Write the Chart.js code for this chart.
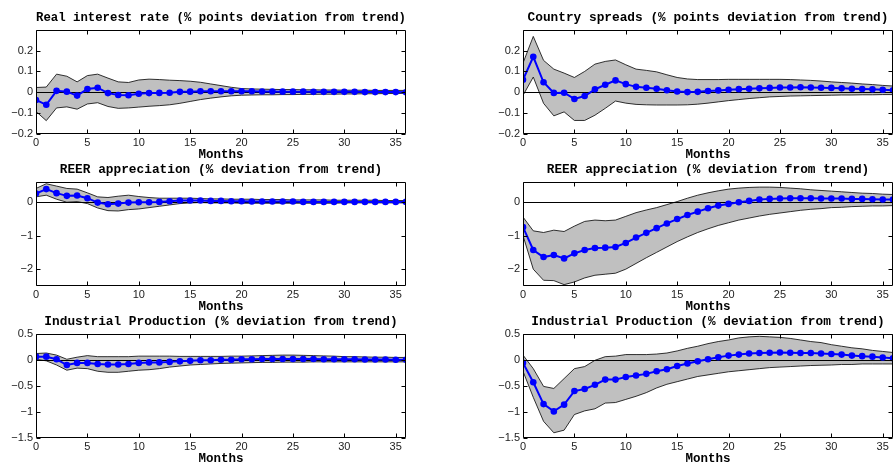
<!DOCTYPE html>
<html>
<head>
<meta charset="utf-8">
<script src="https://cdn.jsdelivr.net/npm/chart.js@4"></script>
<style>
    html, body { margin: 0; padding: 0; background: #fff; }
    body { width: 893px; height: 469px; overflow: hidden; position: relative; }
    canvas { position: absolute; }
</style>
</head>
<body>
<canvas id="rate" width="420" height="162" style="left:0px;top:0px"></canvas>
<canvas id="spreads" width="420" height="162" style="left:487px;top:0px"></canvas>
<canvas id="reerA" width="420" height="162" style="left:0px;top:152px"></canvas>
<canvas id="reerB" width="420" height="162" style="left:487px;top:152px"></canvas>
<canvas id="ipA" width="420" height="162" style="left:0px;top:304px"></canvas>
<canvas id="ipB" width="420" height="162" style="left:487px;top:304px"></canvas>
<script>
const months = [0,1,2,3,4,5,6,7,8,9,10,11,12,13,14,15,16,17,18,19,20,21,22,23,24,25,26,27,28,29,30,31,32,33,34,35,36]
const xTicks = [0, 5, 10, 15, 20, 25, 30, 35]

const titles = [
    'Real interest rate (% points deviation from trend)',
    'Country spreads (% points deviation from trend)',
    'REER appreciation (% deviation from trend)',
    'REER appreciation (% deviation from trend)',
    'Industrial Production (% deviation from trend)',
    'Industrial Production (% deviation from trend)',
]

const yTicksSpread = [-0.2, -0.1, 0, 0.1, 0.2]
const yTicksReer = [-2, -1, 0]
const yTicksIp = [-1.5, -1, -0.5, 0, 0.5]

// real interest rate
const rateResp = [-0.037,-0.060,0.007,0.003,-0.016,0.016,0.022,-0.004,-0.013,-0.014,-0.007,-0.004,-0.003,-0.002,0.002,0.003,0.005,0.005,0.005,0.005,0.005,0.005,0.004,0.004,0.003,0.003,0.003,0.002,0.002,0.002,0.002,0.002,0.001,0.001,0.001,0.001,0.000]
const rateUpper = [0.023,0.025,0.087,0.077,0.050,0.080,0.087,0.068,0.050,0.047,0.059,0.063,0.061,0.058,0.056,0.053,0.048,0.040,0.032,0.024,0.018,0.016,0.015,0.014,0.013,0.013,0.012,0.012,0.011,0.011,0.010,0.010,0.010,0.009,0.009,0.009,0.009]
const rateLower = [-0.092,-0.136,-0.075,-0.070,-0.081,-0.056,-0.050,-0.068,-0.077,-0.075,-0.071,-0.067,-0.064,-0.060,-0.053,-0.044,-0.035,-0.028,-0.022,-0.017,-0.014,-0.013,-0.012,-0.012,-0.011,-0.011,-0.010,-0.010,-0.009,-0.009,-0.008,-0.008,-0.007,-0.007,-0.006,-0.006,-0.005]

// country spreads
const spreadResp = [0.060,0.170,0.048,-0.003,-0.002,-0.032,-0.018,0.014,0.036,0.057,0.039,0.026,0.022,0.017,0.010,0.004,0.001,0.002,0.006,0.009,0.012,0.015,0.017,0.019,0.021,0.023,0.023,0.024,0.023,0.022,0.021,0.019,0.017,0.016,0.014,0.012,0.010]
const spreadUpper = [0.140,0.268,0.153,0.111,0.092,0.071,0.100,0.135,0.148,0.155,0.132,0.111,0.105,0.098,0.084,0.071,0.064,0.061,0.061,0.061,0.062,0.062,0.062,0.062,0.062,0.062,0.061,0.059,0.057,0.054,0.050,0.047,0.044,0.040,0.037,0.033,0.030]
const spreadLower = [-0.015,0.073,-0.053,-0.113,-0.094,-0.135,-0.135,-0.110,-0.077,-0.042,-0.052,-0.058,-0.060,-0.061,-0.061,-0.061,-0.060,-0.057,-0.052,-0.046,-0.040,-0.035,-0.030,-0.026,-0.022,-0.020,-0.018,-0.017,-0.016,-0.015,-0.014,-0.013,-0.013,-0.012,-0.012,-0.011,-0.011]

// REER, left column
const reerAResp = [0.25,0.38,0.26,0.18,0.19,0.11,-0.02,-0.07,-0.05,-0.02,-0.01,-0.01,0.00,0.02,0.04,0.04,0.04,0.03,0.03,0.02,0.02,0.01,0.01,0.01,0.01,0.01,0.00,0.00,0.00,0.00,0.00,0.00,0.00,0.00,0.00,0.00,0.00]
const reerAUpper = [0.40,0.54,0.47,0.40,0.38,0.27,0.15,0.13,0.17,0.20,0.16,0.13,0.11,0.11,0.11,0.11,0.10,0.09,0.09,0.08,0.08,0.08,0.07,0.07,0.07,0.06,0.06,0.06,0.06,0.05,0.05,0.05,0.05,0.05,0.04,0.04,0.04]
const reerALower = [0.15,0.20,0.08,-0.01,0.01,-0.05,-0.18,-0.26,-0.27,-0.23,-0.21,-0.17,-0.13,-0.09,-0.05,-0.03,-0.02,-0.03,-0.03,-0.03,-0.04,-0.04,-0.04,-0.04,-0.04,-0.04,-0.04,-0.04,-0.04,-0.04,-0.03,-0.03,-0.03,-0.03,-0.03,-0.03,-0.03]

// REER, right column
const reerBResp = [-0.75,-1.43,-1.64,-1.58,-1.68,-1.53,-1.43,-1.37,-1.36,-1.34,-1.22,-1.06,-0.92,-0.78,-0.64,-0.51,-0.39,-0.29,-0.19,-0.11,-0.06,-0.01,0.03,0.07,0.09,0.10,0.11,0.11,0.11,0.10,0.10,0.10,0.09,0.09,0.08,0.07,0.07]
const reerBUpper = [-0.45,-0.86,-0.91,-0.84,-0.88,-0.72,-0.58,-0.54,-0.56,-0.54,-0.43,-0.32,-0.24,-0.17,-0.08,0.01,0.11,0.20,0.27,0.33,0.38,0.41,0.43,0.44,0.44,0.43,0.41,0.39,0.36,0.34,0.32,0.30,0.28,0.26,0.25,0.23,0.22]
const reerBLower = [-1.00,-2.00,-2.33,-2.34,-2.46,-2.38,-2.26,-2.18,-2.15,-2.12,-2.00,-1.83,-1.66,-1.50,-1.34,-1.18,-1.04,-0.91,-0.80,-0.70,-0.62,-0.54,-0.48,-0.42,-0.37,-0.33,-0.29,-0.25,-0.22,-0.20,-0.17,-0.16,-0.14,-0.13,-0.12,-0.12,-0.11]

// industrial production, left column
const ipAResp = [0.06,0.06,0.01,-0.10,-0.06,-0.06,-0.08,-0.09,-0.09,-0.08,-0.06,-0.05,-0.05,-0.04,-0.03,-0.02,-0.01,-0.01,0.00,0.00,0.01,0.01,0.015,0.015,0.015,0.015,0.015,0.015,0.01,0.01,0.01,0.01,0.005,0.005,0.005,0.00,0.00]
const ipAUpper = [0.12,0.13,0.09,0.01,0.05,0.08,0.06,0.06,0.06,0.06,0.07,0.07,0.07,0.07,0.065,0.065,0.065,0.065,0.065,0.07,0.07,0.075,0.08,0.085,0.09,0.09,0.085,0.08,0.075,0.07,0.06,0.06,0.055,0.05,0.05,0.045,0.045]
const ipALower = [0.01,-0.02,-0.10,-0.20,-0.16,-0.17,-0.22,-0.24,-0.24,-0.22,-0.20,-0.19,-0.17,-0.14,-0.12,-0.10,-0.09,-0.08,-0.07,-0.065,-0.06,-0.055,-0.05,-0.05,-0.045,-0.045,-0.045,-0.04,-0.04,-0.04,-0.04,-0.04,-0.04,-0.04,-0.04,-0.04,-0.04]

// industrial production, right column
const ipBResp = [-0.06,-0.43,-0.85,-0.99,-0.86,-0.60,-0.56,-0.48,-0.38,-0.38,-0.33,-0.30,-0.27,-0.22,-0.18,-0.12,-0.07,-0.03,0.01,0.05,0.08,0.10,0.12,0.13,0.135,0.14,0.135,0.13,0.13,0.12,0.11,0.10,0.08,0.07,0.06,0.045,0.03]
const ipBUpper = [0.09,-0.17,-0.51,-0.55,-0.36,-0.17,-0.13,-0.01,0.06,0.07,0.10,0.10,0.10,0.11,0.13,0.17,0.22,0.26,0.31,0.35,0.38,0.42,0.44,0.45,0.44,0.43,0.41,0.38,0.35,0.33,0.29,0.26,0.23,0.21,0.18,0.16,0.14]
const ipBLower = [-0.22,-0.72,-1.18,-1.40,-1.35,-1.05,-0.98,-0.94,-0.83,-0.82,-0.76,-0.70,-0.63,-0.54,-0.47,-0.42,-0.37,-0.32,-0.29,-0.26,-0.23,-0.21,-0.19,-0.17,-0.15,-0.14,-0.13,-0.12,-0.11,-0.105,-0.10,-0.09,-0.09,-0.08,-0.08,-0.08,-0.08]

Chart.defaults.font.family = "'Liberation Sans', Arial, sans-serif"
Chart.defaults.color = '#222'

const monoBold = (size) => ({family: "'Liberation Mono', 'Courier New', monospace", weight: 'bold', size, lineHeight: 1.15})

const points = (values) => months.map((m, i) => ({x: m, y: values[i]}))

const fmt = (v) => (v < 0 ? '\u2212' : '') + Math.abs(v)

// zero line, drawn just before the blue response
const zeroLine = {
    id: 'zeroLine',
    beforeDatasetDraw(chart, args) {
        if (args.index !== 0) return
        const {ctx, chartArea: {left, right}, scales: {y}} = chart
        const py = Math.round(y.getPixelForValue(0)) + 0.5
        ctx.save()
        ctx.strokeStyle = '#000'
        ctx.lineWidth = 1
        ctx.beginPath()
        ctx.moveTo(left, py)
        ctx.lineTo(right, py)
        ctx.stroke()
        ctx.restore()
    }
}

// matlab style box with inward ticks on all four sides
const boxTicks = {
    id: 'boxTicks',
    afterDatasetsDraw(chart) {
        const {ctx, chartArea: {left, right, top, bottom}, scales: {x, y}} = chart
        const len = 4
        const l = Math.round(left) + 0.5, r = Math.round(right) - 0.5
        const t = Math.round(top) + 0.5, b = Math.round(bottom) - 0.5
        ctx.save()
        ctx.strokeStyle = '#000'
        ctx.lineWidth = 1
        ctx.beginPath()
        x.ticks.forEach(({value}) => {
            const px = Math.round(x.getPixelForValue(value)) + 0.5
            ctx.moveTo(px, b); ctx.lineTo(px, b - len)
            ctx.moveTo(px, t); ctx.lineTo(px, t + len)
        })
        y.ticks.forEach(({value}) => {
            const py = Math.round(y.getPixelForValue(value)) + 0.5
            ctx.moveTo(l, py); ctx.lineTo(l + len, py)
            ctx.moveTo(r, py); ctx.lineTo(r - len, py)
        })
        ctx.rect(l, t, r - l, b - t)
        ctx.stroke()
        ctx.restore()
    }
}

const drawPanel = (id, title, resp, upper, lower, yMin, yMax, yTicks) => {
    new Chart(document.getElementById(id), {
        type: 'line',
        data: {
            datasets: [
                {
                    data: points(resp),
                    borderColor: '#0000ff',
                    backgroundColor: '#0000ff',
                    borderWidth: 2,
                    pointRadius: 3.3,
                    pointBorderWidth: 0,
                    fill: false,
                    order: 0,
                },
                {
                    data: points(upper),
                    borderColor: '#000',
                    borderWidth: 0.8,
                    backgroundColor: '#c0c0c0',
                    pointRadius: 0,
                    fill: '+1',
                    order: 1,
                },
                {
                    data: points(lower),
                    borderColor: '#000',
                    borderWidth: 0.8,
                    pointRadius: 0,
                    fill: false,
                    order: 2,
                }
            ]
        },
        options: {
            responsive: false,
            animation: false,
            layout: {padding: {left: 0, right: 14, top: 0, bottom: 0}},
            plugins: {
                legend: {display: false},
                tooltip: {enabled: false},
                filler: {drawTime: 'beforeDatasetsDraw'},
                title: {
                    display: true,
                    fullSize: false,
                    text: title,
                    color: '#000',
                    font: monoBold(12.8),
                    padding: {top: 10, bottom: 5},
                }
            },
            scales: {
                x: {
                    type: 'linear',
                    min: 0,
                    max: 36,
                    grid: {display: false, drawTicks: false},
                    border: {display: false},
                    afterBuildTicks: (scale) => { scale.ticks = xTicks.map(value => ({value})) },
                    afterFit: (scale) => { scale.height = 28 },
                    ticks: {padding: 2, font: {size: 11}, maxRotation: 0, autoSkip: false, callback: fmt},
                    title: {display: true, text: 'Months', color: '#000', font: monoBold(12.5), padding: {top: 0, bottom: 0}},
                },
                y: {
                    min: yMin,
                    max: yMax,
                    grid: {display: false, drawTicks: false},
                    border: {display: false},
                    afterBuildTicks: (scale) => { scale.ticks = yTicks.map(value => ({value})) },
                    afterFit: (scale) => { scale.width = 36 },
                    ticks: {padding: 3, font: {size: 11}, callback: fmt},
                }
            }
        },
        plugins: [zeroLine, boxTicks]
    })
}

const init = () => {
    drawPanel('rate', titles[0], rateResp, rateUpper, rateLower, -0.2, 0.3, yTicksSpread)
    drawPanel('spreads', titles[1], spreadResp, spreadUpper, spreadLower, -0.2, 0.3, yTicksSpread)
    drawPanel('reerA', titles[2], reerAResp, reerAUpper, reerALower, -2.5, 0.6, yTicksReer)
    drawPanel('reerB', titles[3], reerBResp, reerBUpper, reerBLower, -2.5, 0.6, yTicksReer)
    drawPanel('ipA', titles[4], ipAResp, ipAUpper, ipALower, -1.5, 0.5, yTicksIp)
    drawPanel('ipB', titles[5], ipBResp, ipBUpper, ipBLower, -1.5, 0.5, yTicksIp)
}

document.addEventListener('DOMContentLoaded', init)
</script>
</body>
</html>
